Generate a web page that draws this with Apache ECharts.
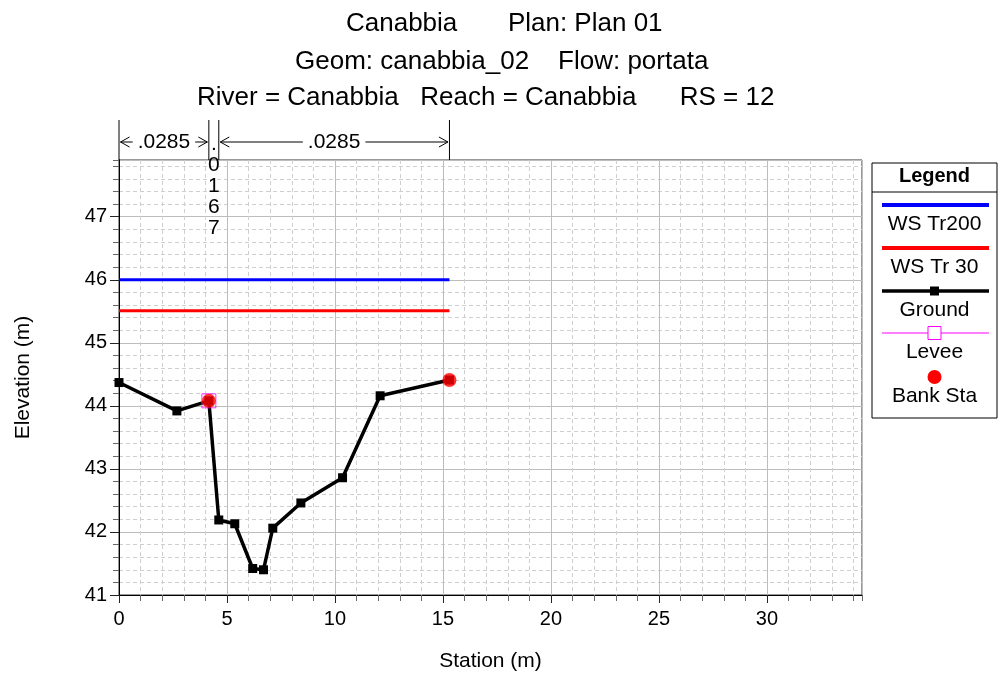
<!DOCTYPE html>
<html><head><meta charset="utf-8">
<script src="https://cdn.jsdelivr.net/npm/echarts@6/dist/echarts.min.js"></script>
<style>html,body{margin:0;padding:0;background:#fff}#c{width:999px;height:675px}</style>
</head><body><div id="c"></div>
<script>
// ---- data ----
const titleLines = ['Canabbia       Plan: Plan 01', 'Geom: canabbia_02    Flow: portata', 'River = Canabbia   Reach = Canabbia      RS = 12'];
const groundStations = [0, 2.68, 4.16, 4.62, 5.36, 6.19, 6.69, 7.12, 8.42, 10.35, 12.09, 15.30];
const groundElev = [44.37, 43.92, 44.08, 42.19, 42.13, 41.42, 41.40, 42.06, 42.46, 42.86, 44.16, 44.41];
const wsNames = ['WS Tr200', 'WS Tr 30'];
const wsElev = [46.00, 45.51];
const wsStations = [0, 15.30];
const leveeStations = [4.16];
const leveeElev = [44.08];
const bankStations = [4.16, 15.30];
const bankElev = [44.08, 44.41];
const nBreaks = [0, 4.16, 4.62, 15.30];
const nValues = ['.0285', '.0167', '.0285'];
const legendNames = ['WS Tr200', 'WS Tr 30', 'Ground', 'Levee', 'Bank Sta'];
const xName = 'Station (m)';
const yName = 'Elevation (m)';
const xRange = [0, 34.4];
const yRange = [41, 47.9];

const FONT = '"Liberation Sans", Arial, Helvetica, sans-serif';
const chart = echarts.init(document.getElementById('c'), null, {renderer: 'canvas'});

const pair = (xs, ys) => xs.map((x, i) => [x, ys[i]]);
const minorSplit = {show: true, lineStyle: {color: '#cfcfcf', type: [4, 3], width: 1}};
const majorSplit = {show: true, lineStyle: {color: '#bdbdbd', type: 'solid', width: 1}};

const option = {
  animation: false,
  backgroundColor: '#fff',
  grid: {left: 119, right: 137, top: 160, bottom: 80, show: true, borderColor: '#333', borderWidth: 1, backgroundColor: 'transparent'},
  xAxis: [
    {type: 'value', position: 'bottom', min: xRange[0], max: xRange[1], interval: 1,
     axisLine: {show: true, onZero: false, lineStyle: {color: '#000'}},
     axisTick: {show: true, length: 6, lineStyle: {color: '#666'}},
     axisLabel: {show: false}, splitLine: minorSplit},
    {type: 'value', position: 'bottom', min: xRange[0], max: xRange[1], interval: 5,
     axisLine: {show: true, onZero: false, lineStyle: {color: '#000'}},
     axisTick: {show: true, length: 8, lineStyle: {color: '#222'}},
     axisLabel: {show: true, color: '#000', fontSize: 20, fontFamily: FONT, margin: 14, showMaxLabel: false},
     splitLine: majorSplit}
  ],
  yAxis: [
    {type: 'value', position: 'left', min: yRange[0], max: yRange[1], interval: 0.2,
     axisLine: {show: true, onZero: false, lineStyle: {color: '#000'}},
     axisTick: {show: true, length: 6, lineStyle: {color: '#666'}},
     axisLabel: {show: false}, splitLine: minorSplit},
    {type: 'value', position: 'left', min: yRange[0], max: yRange[1], interval: 1,
     axisLine: {show: true, onZero: false, lineStyle: {color: '#000'}},
     axisTick: {show: true, length: 9, lineStyle: {color: '#222'}},
     axisLabel: {show: true, color: '#000', fontSize: 20, fontFamily: FONT, margin: 12, showMaxLabel: false},
     splitLine: majorSplit}
  ],
  series: [
    {name: wsNames[0], type: 'line', xAxisIndex: 1, yAxisIndex: 1, z: 2, data: pair(wsStations, wsStations.map(() => wsElev[0])),
     showSymbol: false, lineStyle: {color: '#0000ff', width: 3}, itemStyle: {color: '#0000ff'}},
    {name: wsNames[1], type: 'line', xAxisIndex: 1, yAxisIndex: 1, z: 2, data: pair(wsStations, wsStations.map(() => wsElev[1])),
     showSymbol: false, lineStyle: {color: '#ff0000', width: 3}, itemStyle: {color: '#ff0000'}},
    {name: 'Ground', type: 'line', xAxisIndex: 1, yAxisIndex: 1, z: 3, data: pair(groundStations, groundElev),
     symbol: 'rect', symbolSize: 9, showSymbol: true, lineStyle: {color: '#000', width: 3.5}, itemStyle: {color: '#000'}},
    {name: 'Levee', type: 'scatter', xAxisIndex: 1, yAxisIndex: 1, z: 5, data: pair(leveeStations, leveeElev),
     symbol: 'rect', symbolSize: 14, itemStyle: {color: 'rgba(0,0,0,0)', borderColor: '#ff00ff', borderWidth: 1}},
    {name: 'Bank Sta', type: 'scatter', xAxisIndex: 1, yAxisIndex: 1, z: 6, data: pair(bankStations, bankElev),
     symbol: 'circle', symbolSize: 14, itemStyle: {color: '#ff0000'}}
  ]
};
chart.setOption(option);

// ---- annotations (positions derived from the axes) ----
const px = s => chart.convertToPixel({xAxisIndex: 1}, s);
const py = v => chart.convertToPixel({yAxisIndex: 1}, v);
const ctx = document.createElement('canvas').getContext('2d');
const g = [];
const txt = (x, y, t) => g.push({type: 'text', x, y, style: {text: t, fill: '#000', font: '21px ' + FONT, textAlign: 'center', textVerticalAlign: 'middle'}});
const line = (x1, y1, x2, y2, stroke, w) => g.push({type: 'line', shape: {x1, y1, x2, y2}, style: {stroke: stroke || '#000', lineWidth: w || 1}});

// titles
const titleX = [346, 295, 197], titleY = [24, 62, 98];
titleLines.forEach((t, i) => g.push({type: 'text', x: titleX[i], y: titleY[i], style: {text: t, fill: '#000', font: '26px ' + FONT, textAlign: 'left', textVerticalAlign: 'middle'}}));

// axis names
txt((px(xRange[0]) + px(xRange[1])) / 2, 661, xName);
g.push({type: 'text', x: 23.5, y: (py(yRange[0]) + py(yRange[1])) / 2, rotation: Math.PI / 2,
  style: {text: yName, fill: '#000', font: '21px ' + FONT, textAlign: 'center', textVerticalAlign: 'middle'}});

// Manning's n band
const bandTop = 120, bandBot = py(yRange[1]), arrowY = 142;
nBreaks.forEach(s => line(px(s), bandTop, px(s), bandBot));
ctx.font = '21px ' + FONT;
for (let i = 0; i < nValues.length; i++) {
  const x1 = px(nBreaks[i]), x2 = px(nBreaks[i + 1]), cx = (x1 + x2) / 2, t = nValues[i];
  const tw = ctx.measureText(t).width;
  if (x2 - x1 > tw + 20) {
    txt(cx, arrowY, t);
    const a = x1 + 1.5, b = x2 - 1.5;
    line(a, arrowY, cx - tw / 2 - 5, arrowY);
    line(cx + tw / 2 + 5, arrowY, b, arrowY);
    g.push({type: 'polyline', shape: {points: [[a + 9, arrowY - 5], [a, arrowY], [a + 9, arrowY + 5]]}, style: {stroke: '#000', lineWidth: 1, fill: null}});
    g.push({type: 'polyline', shape: {points: [[b - 9, arrowY - 5], [b, arrowY], [b - 9, arrowY + 5]]}, style: {stroke: '#000', lineWidth: 1, fill: null}});
  } else {
    t.split('').forEach((ch, k) => txt(cx, 144 + k * 21, ch));
  }
}

// legend box
const L = {x: 872, y: 163, w: 125, h: 255};
const lcx = L.x + L.w / 2, lx1 = 882, lx2 = 989;
g.push({type: 'rect', shape: {x: L.x, y: L.y, width: L.w, height: L.h}, style: {fill: '#fff', stroke: '#000', lineWidth: 1}});
line(L.x, 192, L.x + L.w, 192);
g.push({type: 'text', x: lcx, y: 176, style: {text: 'Legend', fill: '#000', font: 'bold 20px ' + FONT, textAlign: 'center', textVerticalAlign: 'middle'}});
line(lx1, 205, lx2, 205, '#0000ff', 4);
txt(lcx, 224, legendNames[0]);
line(lx1, 248, lx2, 248, '#ff0000', 4);
txt(lcx, 267, legendNames[1]);
line(lx1, 291, lx2, 291, '#000', 3.5);
g.push({type: 'rect', shape: {x: lcx - 4.5, y: 291 - 4.5, width: 9, height: 9}, style: {fill: '#000'}});
txt(lcx, 310, legendNames[2]);
line(lx1, 333, lx2, 333, '#ff00ff', 1);
g.push({type: 'rect', shape: {x: lcx - 6.5, y: 333 - 6.5, width: 13, height: 13}, style: {fill: '#fff', stroke: '#ff00ff', lineWidth: 1}});
txt(lcx, 352, legendNames[3]);
g.push({type: 'circle', shape: {cx: lcx, cy: 377, r: 7}, style: {fill: '#ff0000'}});
txt(lcx, 396, legendNames[4]);

chart.setOption({graphic: g});
</script></body></html>
